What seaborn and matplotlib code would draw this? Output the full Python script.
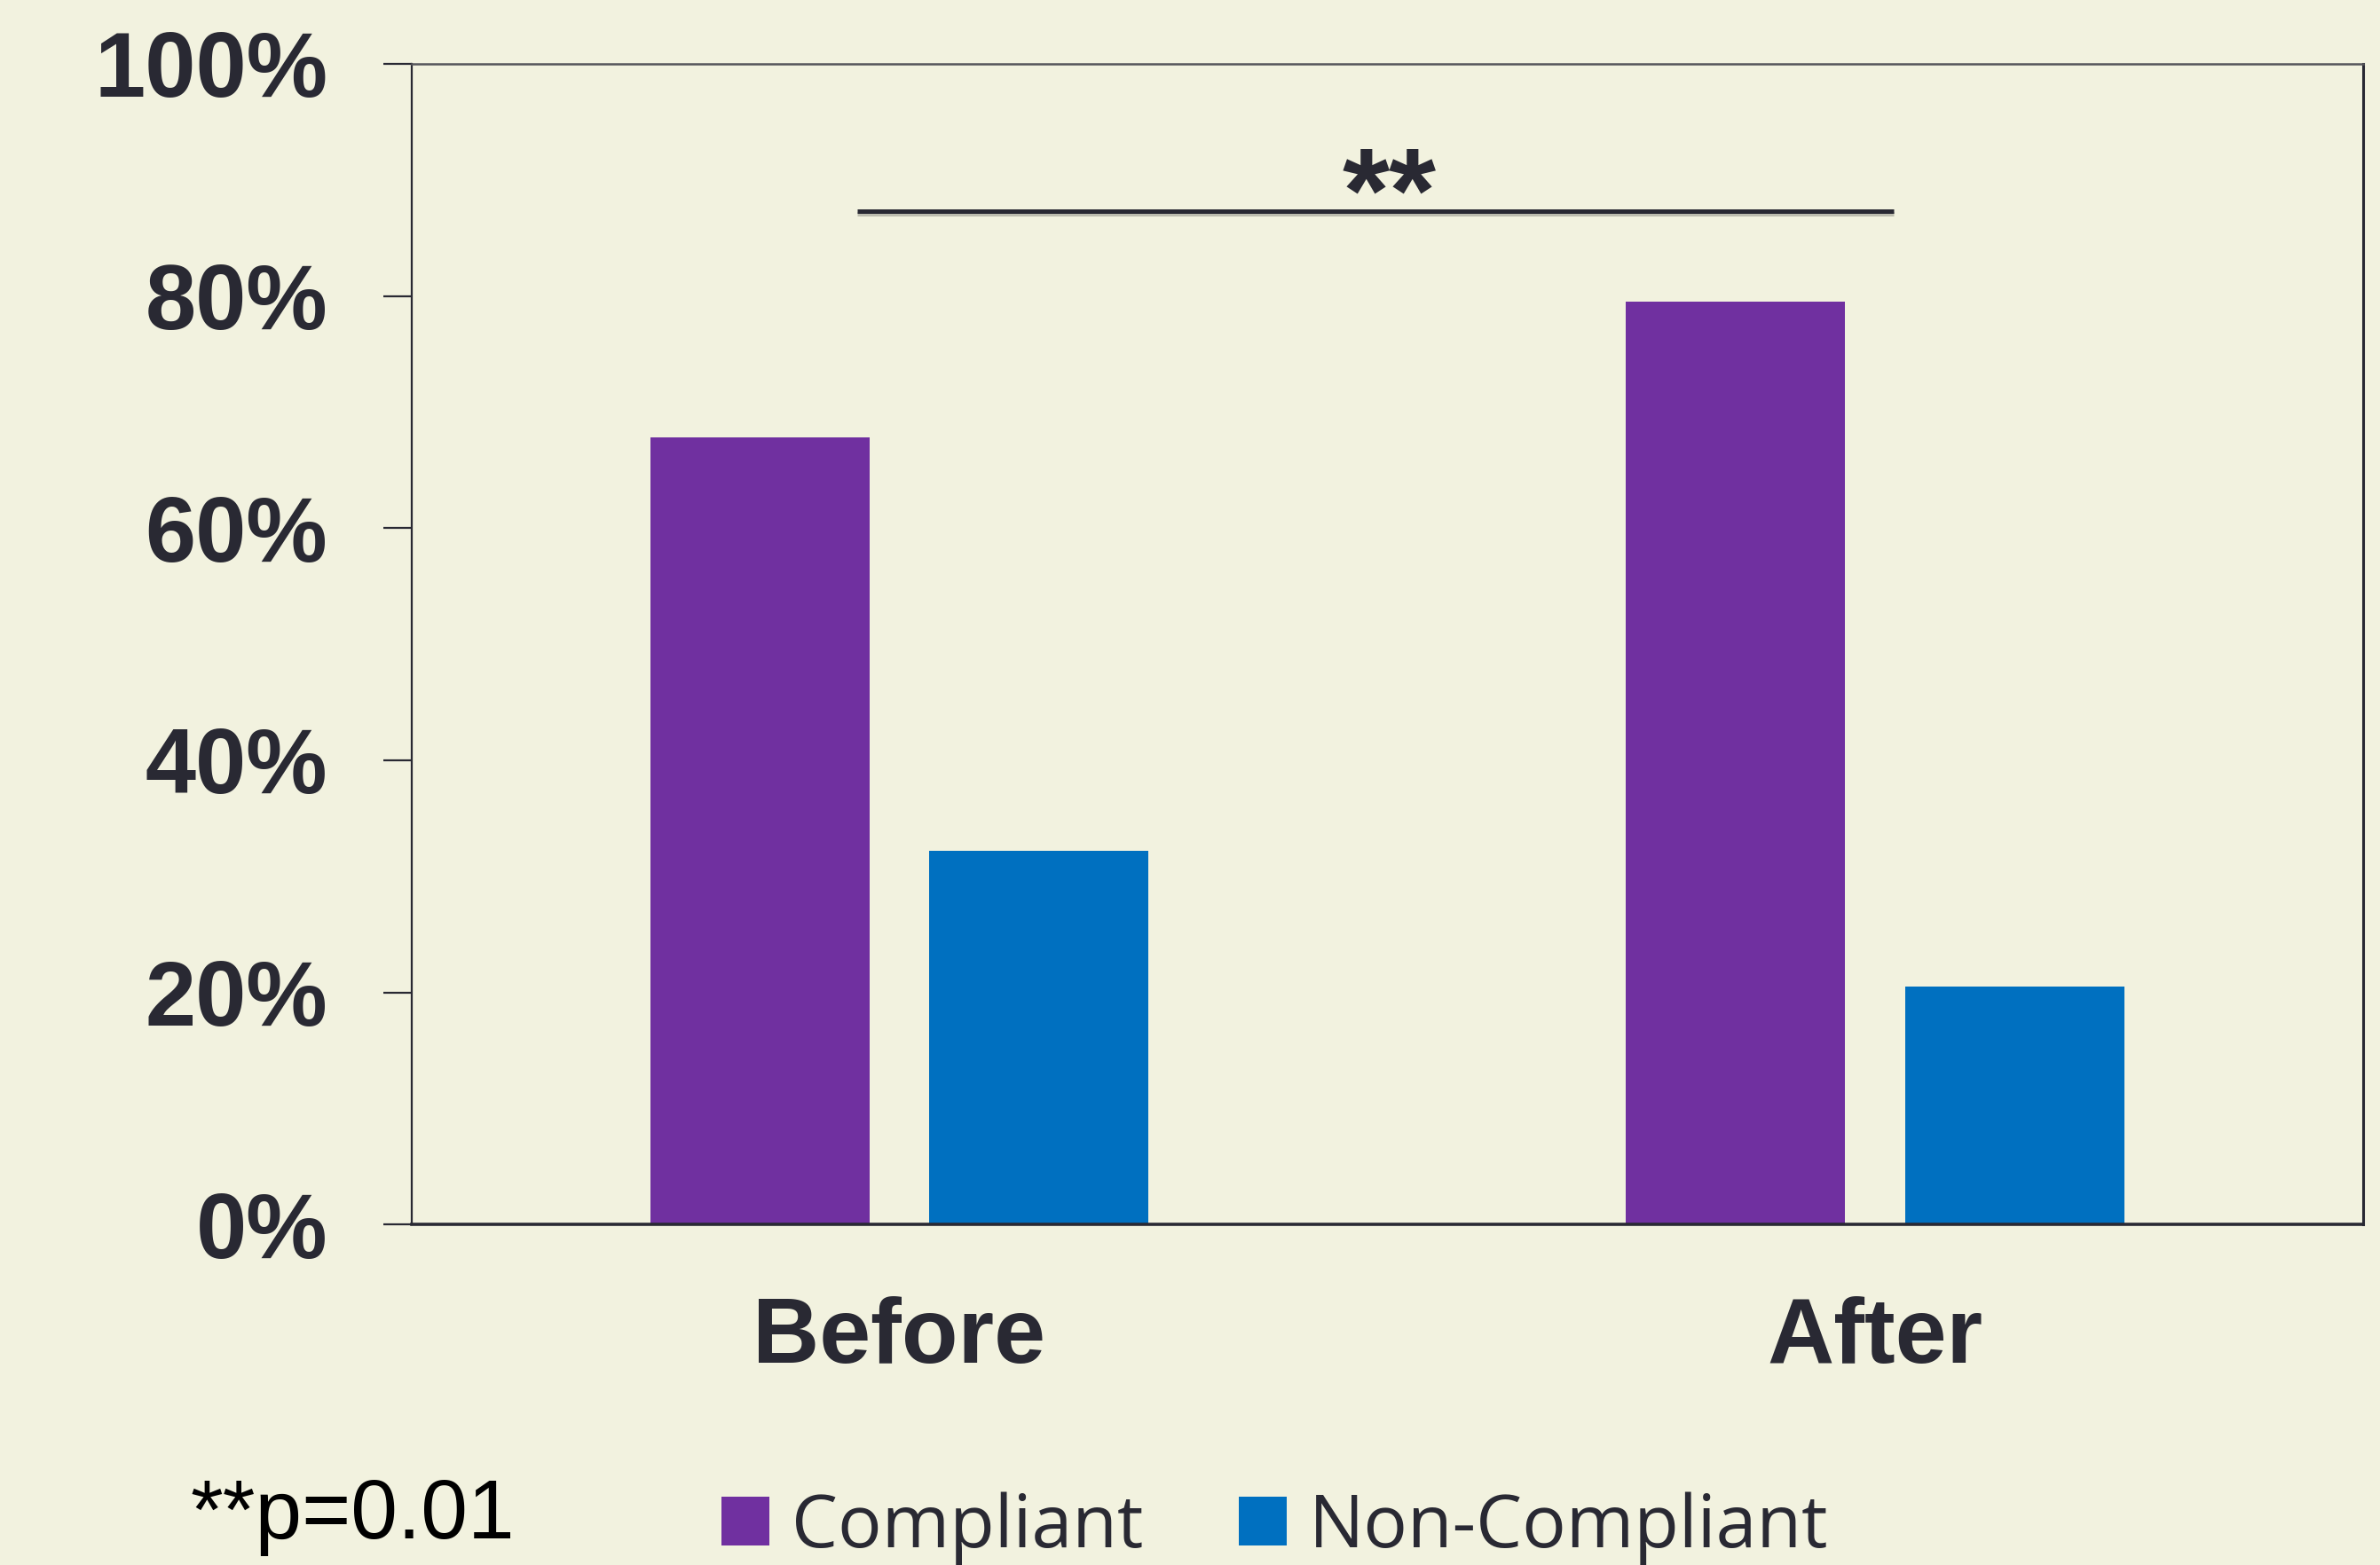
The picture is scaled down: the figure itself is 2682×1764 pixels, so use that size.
import numpy as np
import pandas as pd
import seaborn as sns
import matplotlib
matplotlib.use("Agg")
import matplotlib.pyplot as plt
import matplotlib.patheffects as pe
from matplotlib.ticker import PercentFormatter

# ---- data ----
periods = ["Before", "After"]
groups = ["Compliant", "Non-Compliant"]
compliant = [67.8, 79.5]
non_compliant = [32.2, 20.5]
y_ticks = [0, 20, 40, 60, 80, 100]
sig_label = "**"
footnote = "**p=0.01"

df = pd.DataFrame({
    "period": periods * 2,
    "group": [groups[0]] * len(periods) + [groups[1]] * len(periods),
    "value": compliant + non_compliant,
})

BG = "#F2F2DF"
TXT = "#292933"
PURPLE = "#7030A0"
BLUE = "#0070C0"

sns.set_theme(style="white", rc={"figure.facecolor": BG, "axes.facecolor": BG})
plt.rcParams["font.family"] = ["Liberation Sans", "DejaVu Sans"]

W, H = 2682, 1764
fig = plt.figure(figsize=(W / 100, H / 100), dpi=100)
ax_left, ax_right, ax_top, ax_bottom = 463.5, 2663, 71.8, 1380.4
ax = fig.add_axes([ax_left / W, (H - ax_bottom) / H,
                   (ax_right - ax_left) / W, (ax_bottom - ax_top) / H])

sns.barplot(data=df, x="period", y="value", hue="group", order=periods,
            hue_order=groups, palette=[PURPLE, BLUE], width=0.572, gap=0.215,
            saturation=1, linewidth=0, ax=ax)

ax.set_xlim(-0.5, 1.5)
ax.set_ylim(0, 100)
ax.set_yticks(y_ticks)
ax.yaxis.set_major_formatter(PercentFormatter(xmax=100, decimals=0))
ax.set_xlabel("")
ax.set_ylabel("")

ax.tick_params(axis="y", left=True, direction="out", length=22.7, width=1.6,
               color=TXT, pad=45, labelsize=74, labelcolor=TXT)
ax.tick_params(axis="x", bottom=False, length=0, pad=58, labelsize=75,
               labelcolor=TXT)
for lab in ax.get_yticklabels() + ax.get_xticklabels():
    lab.set_fontweight("bold")

for side, sp in ax.spines.items():
    sp.set_visible(True)
    sp.set_color(TXT)
ax.spines["left"].set_linewidth(1.6)
ax.spines["bottom"].set_linewidth(2.6)
ax.spines["right"].set_linewidth(2.2)
ax.spines["top"].set_linewidth(1.8)
ax.spines["top"].set_color("#55555A")

# significance bracket
sig_x0, sig_x1, sig_y = -0.043, 1.019, 87.3
ax.plot([sig_x0, sig_x1], [sig_y, sig_y], color=TXT, lw=3.6,
        solid_capstyle="butt", clip_on=False,
        path_effects=[pe.SimpleLineShadow(offset=(0, -2.5), shadow_color="#8a8a80", alpha=0.5),
                      pe.Normal()])
ax.text(0.5025, 85.6, sig_label, ha="center", va="baseline", fontsize=98,
        color=TXT, fontweight="bold")

# legend
sns.move_legend(ax, loc="center left", bbox_to_anchor=(813 / W, 41.5 / H),
                bbox_transform=fig.transFigure, ncol=2, frameon=False,
                title=None, prop={"family": ["Open Sans", "DejaVu Sans"], "size": 59.5},
                labelcolor=TXT, handlelength=0.655, handleheight=0.655,
                handletextpad=0.3, columnspacing=1.3, borderpad=0,
                borderaxespad=0)

fig.text(215 / W, 30 / H, footnote, ha="left", va="baseline", fontsize=68,
         color="black")

fig.savefig("out.png", dpi=100, facecolor=BG)
